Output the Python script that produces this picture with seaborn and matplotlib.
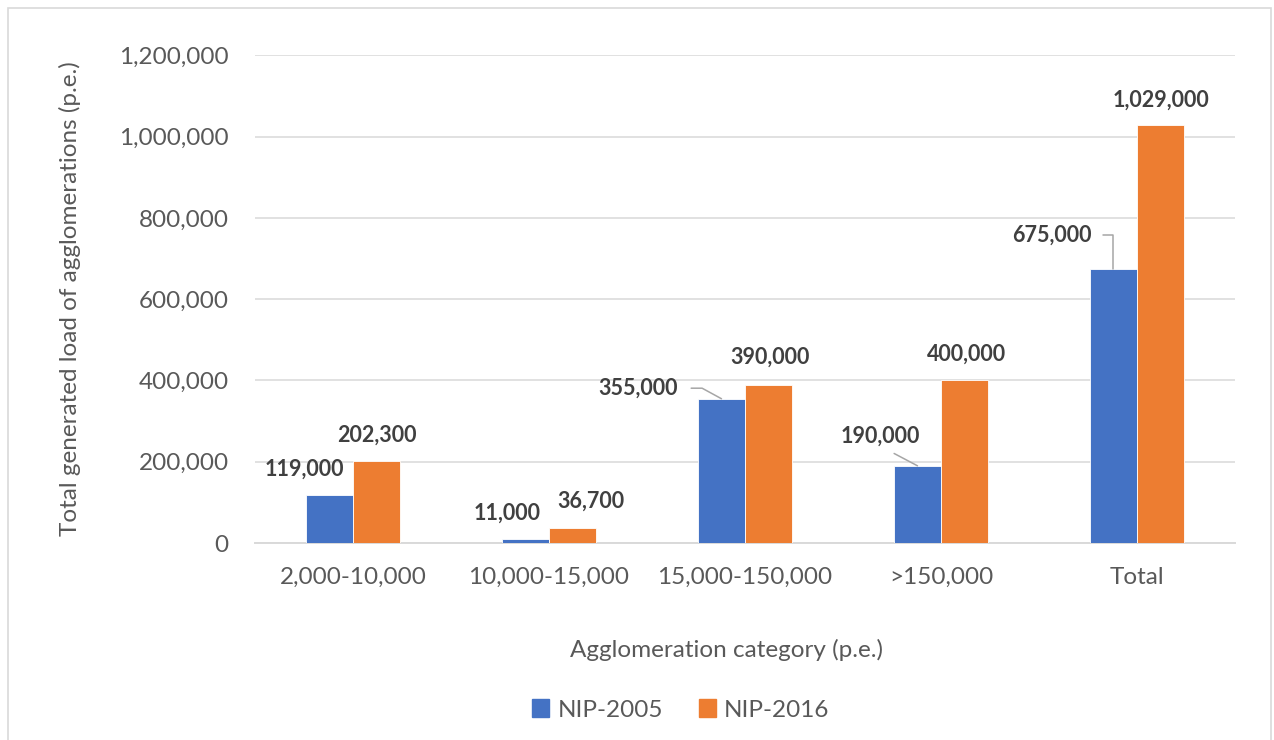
import matplotlib
matplotlib.use("Agg")
import matplotlib.pyplot as plt
from matplotlib.patches import Rectangle
import seaborn as sns
import pandas as pd

# chart data
categories = ["2,000-10,000", "10,000-15,000", "15,000-150,000", ">150,000", "Total"]
nip_2005 = [119000, 11000, 355000, 190000, 675000]
nip_2016 = [202300, 36700, 390000, 400000, 1029000]
series_names = ["NIP-2005", "NIP-2016"]
y_ticks = [0, 200000, 400000, 600000, 800000, 1000000, 1200000]

# label placement (points offset from bar top) and leader style per bar
label_offsets = {
    "NIP-2005": [(-18.4, 18.4), (-13, 18.4), (-59.8, 7.6), (-26.6, 21.6), (-44.6, 24.1)],
    "NIP-2016": [(0, 18.5), (13.3, 19.4), (1.4, 19.4), (1.4, 18.7), (0, 18)],
}
leaders = {
    ("NIP-2005", 2): dict(relpos=(1, 0.5), connectionstyle="angle,angleA=0,angleB=-28.6,rad=0", shrinkA=7),
    ("NIP-2005", 3): dict(relpos=(0.5, 0), connectionstyle="arc3", shrinkA=6),
    ("NIP-2005", 4): dict(relpos=(1, 0.5), connectionstyle="angle,angleA=0,angleB=90,rad=0", shrinkA=6),
}

df = pd.DataFrame({
    "category": categories * 2,
    "load": nip_2005 + nip_2016,
    "plan": [series_names[0]] * len(categories) + [series_names[1]] * len(categories),
})

sns.set_style("white")
plt.rcParams["font.family"] = ["Lato", "DejaVu Sans"]

colors = ["#4472C4", "#ED7D31"]
text_gray = "#595959"
label_gray = "#404040"
grid_gray = "#d9d9d9"
fs = 17.5       # regular text
fs_bold = 15.5  # data labels

fig = plt.figure(figsize=(12.74, 7.4), dpi=100)
ax = fig.add_axes([255 / 1274, 1 - 543 / 740, 980 / 1274, 488 / 740])

sns.barplot(
    data=df, x="category", y="load", hue="plan",
    palette=colors, saturation=1, width=0.48, gap=0,
    edgecolor="white", linewidth=0.6, ax=ax, legend=False, zorder=3,
)

ax.set_ylim(0, 1200000 * 1.0008)
ax.set_xlim(-0.5, len(categories) - 0.5)
ax.set_yticks(y_ticks)
ax.set_yticklabels([f"{v:,.0f}" for v in y_ticks])
ax.yaxis.grid(True, color=grid_gray, linewidth=1.1, zorder=0)
ax.set_axisbelow(True)
for s in ["top", "left", "right"]:
    ax.spines[s].set_visible(False)
ax.spines["bottom"].set_color(grid_gray)
ax.spines["bottom"].set_linewidth(1.4)
ax.tick_params(axis="both", length=0, labelsize=fs, labelcolor=text_gray)
ax.tick_params(axis="y", pad=19)
ax.tick_params(axis="x", pad=17)

ax.set_xlabel("Agglomeration category (p.e.)", fontsize=fs, color=text_gray, va="center")
ax.xaxis.set_label_coords((727 - 255) / 980, -(650 - 543) / 488)
ax.set_ylabel("Total generated load of agglomerations (p.e.)", fontsize=fs, color=text_gray, va="center")
ax.yaxis.set_label_coords((70 - 255) / 980, 0.5)

# data labels
for name, container in zip(series_names, ax.containers):
    for i, bar in enumerate(container):
        x = bar.get_x() + bar.get_width() / 2
        y = bar.get_height()
        dx, dy = label_offsets[name][i]
        kw = {}
        lead = leaders.get((name, i))
        if lead is not None:
            kw["arrowprops"] = dict(
                arrowstyle="-", color="#a6a6a6", lw=1.1,
                relpos=lead["relpos"], connectionstyle=lead["connectionstyle"],
                shrinkA=lead["shrinkA"], shrinkB=0,
            )
        ax.annotate(
            f"{y:,.0f}", xy=(x, y), xytext=(dx, dy), textcoords="offset points",
            ha="center", va="center", fontsize=fs_bold, fontweight="bold",
            color=label_gray, zorder=5, **kw,
        )

handles = [Rectangle((0, 0), 1, 1, color=c) for c in colors]
fig.legend(
    handles, series_names, loc="center", bbox_to_anchor=(681 / 1274, 1 - 710 / 740),
    ncol=2, frameon=False, fontsize=fs, labelcolor=text_gray,
    handlelength=0.7, handleheight=0.7, handletextpad=0.35, columnspacing=1.45,
)

# chart area border
fig.patches.append(Rectangle(
    (8 / 1274, -0.05), (1271 - 8) / 1274, 1.05 - 8 / 740,
    transform=fig.transFigure, fill=False, edgecolor=grid_gray, linewidth=1.2,
))

fig.savefig("out.png", dpi=100)
